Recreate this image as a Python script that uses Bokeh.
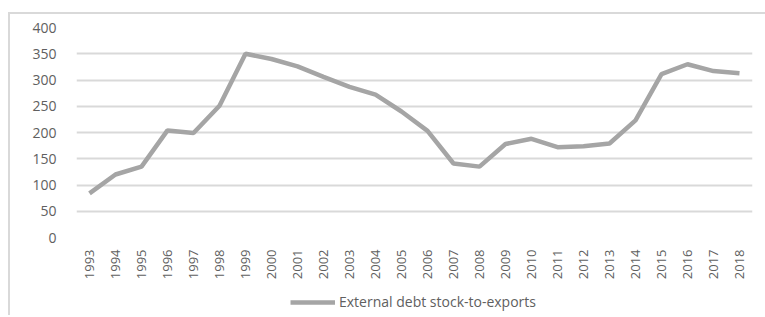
from bokeh.plotting import figure
from bokeh.layouts import column
from bokeh.models import ColumnDataSource, Legend, LegendItem, Range1d, FixedTicker
from bokeh.embed import file_html
from bokeh.resources import INLINE
import math

years = [str(y) for y in range(1993, 2019)]
debt_to_exports = [84, 120, 135, 204, 199, 251, 350, 340, 326, 306, 287, 272, 240,
                   203, 141, 135, 178, 188, 172, 174, 179, 223, 311, 330, 317, 313]
y_ticks = [0, 50, 100, 150, 200, 250, 300, 350, 400]
series_name = "External debt stock-to-exports"

FONT = "Open Sans"
TXT = "#606060"
GRID = "#d9d9d9"
LINE = "#a5a5a5"

src = ColumnDataSource(dict(year=years, val=debt_to_exports))

p = figure(x_range=years, y_range=Range1d(0, 400),
           frame_width=674, frame_height=208,
           output_backend="svg", toolbar_location=None,
           min_border_left=66, min_border_right=15, min_border_top=13, min_border_bottom=53)
p.margin = (12, 0, 0, 8)
p.styles = {"border-top": "2px solid #d9d9d9", "border-left": "2px solid #d9d9d9"}
p.outline_line_color = None
p.background_fill_color = "white"
p.border_fill_color = "white"

r = p.line("year", "val", source=src, line_color=LINE, line_width=4.5)

p.yaxis.ticker = FixedTicker(ticks=y_ticks)
p.yaxis.axis_line_color = None
p.yaxis.major_tick_line_color = None
p.yaxis.minor_tick_line_color = None
p.yaxis.major_tick_out = 0
p.yaxis.major_tick_in = 0
p.yaxis.major_label_text_font = FONT
p.yaxis.major_label_text_font_size = "14px"
p.yaxis.major_label_text_color = TXT
p.yaxis.major_label_standoff = 20

p.xaxis.axis_line_color = None
p.xaxis.major_tick_line_color = None
p.xaxis.minor_tick_line_color = None
p.xaxis.major_tick_out = 0
p.xaxis.major_tick_in = 0
p.xaxis.major_label_orientation = math.pi / 2
p.xaxis.major_label_text_font = FONT
p.xaxis.major_label_text_font_size = "13px"
p.xaxis.major_label_text_color = TXT
p.xaxis.major_label_standoff = 12

p.xgrid.grid_line_color = None
p.ygrid.grid_line_color = GRID
p.ygrid.grid_line_width = 2

# legend strip below the chart (series renderer kept out of its view range)
p2 = figure(width=755, height=27, output_backend="svg", toolbar_location=None,
            min_border=0, x_range=years, y_range=Range1d(1000, 1001))
p2.margin = (0, 0, 0, 8)
p2.styles = {"border-left": "2px solid #d9d9d9"}
p2.axis.visible = False
p2.grid.visible = False
p2.outline_line_color = None
p2.border_fill_color = "white"
p2.background_fill_color = "white"
r2 = p2.line("year", "val", source=src, line_color=LINE, line_width=4.5)
legend = Legend(items=[LegendItem(label=series_name, renderers=[r2])],
                orientation="horizontal", location="center",
                label_text_font=FONT, label_text_font_size="14px", label_text_color=TXT,
                glyph_width=45, label_standoff=4, border_line_color=None,
                background_fill_alpha=0, padding=0, margin=0)
p2.add_layout(legend)

layout = column(p, p2, spacing=0)
open("out.html", "w").write(file_html(layout, INLINE))
